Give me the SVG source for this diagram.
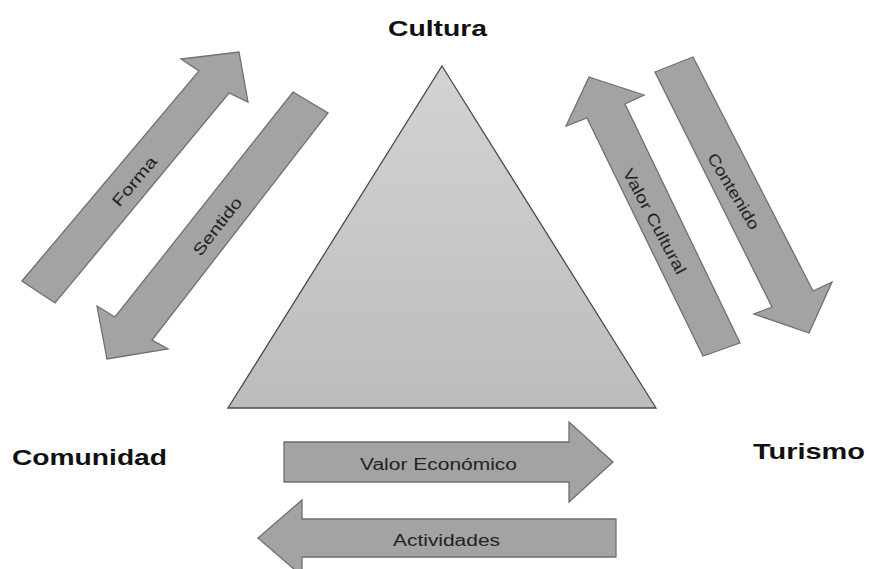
<svg xmlns="http://www.w3.org/2000/svg" width="869" height="569" viewBox="0 0 869 569">
  <defs>
    <linearGradient id="triFill" x1="0" y1="0" x2="0" y2="1">
      <stop offset="0" stop-color="#d3d3d3"/>
      <stop offset="1" stop-color="#bcbcbc"/>
    </linearGradient>
    <style>
      .arrow { fill: #a3a3a3; stroke: #6f6f6f; stroke-width: 1.3; stroke-linejoin: miter; }
      .tri { fill: url(#triFill); stroke: #4a4a4a; stroke-width: 1.3; }
      .title { font-family: "Liberation Sans", Arial, sans-serif; font-weight: bold; font-size: 22px; fill: #111; }
      .lbl { font-family: "Liberation Sans", Arial, sans-serif; font-size: 16px; fill: #222; text-anchor: middle; }
    </style>
  </defs>
  <rect width="869" height="569" fill="#ffffff"/>

  <!-- central triangle -->
  <g id="triangle">
    <polygon class="tri" points="442,66 656,408 228,408"/>
  </g>

  <!-- corner labels -->
  <g id="cultura">
    <text class="title" x="437.5" y="36" text-anchor="middle" textLength="99" lengthAdjust="spacingAndGlyphs">Cultura</text>
  </g>
  <g id="comunidad">
    <text class="title" x="12" y="465" textLength="155" lengthAdjust="spacingAndGlyphs">Comunidad</text>
  </g>
  <g id="turismo">
    <text class="title" x="753" y="459" textLength="112" lengthAdjust="spacingAndGlyphs">Turismo</text>
  </g>

  <!-- block arrows between the corners -->
  <g id="connectors">
    <g id="forma">
      <polygon class="arrow" points="22,281 199,71 181,59 239,52 248,102 229,93 55,303"/>
      <text class="lbl" transform="translate(134,181) rotate(-50)" x="0" y="6" textLength="60" lengthAdjust="spacingAndGlyphs">Forma</text>
    </g>
    <g id="sentido">
      <polygon class="arrow" points="293,92 328,113 152,340 168,349 107,359 97,306 115,317"/>
      <text class="lbl" transform="translate(217,226) rotate(-52)" x="0" y="6" textLength="69" lengthAdjust="spacingAndGlyphs">Sentido</text>
    </g>
    <g id="valor-cultural">
      <polygon class="arrow" points="589,77 644,95 625,104 740,343 703,356 587,118 566,126"/>
      <text class="lbl" transform="translate(655,221) rotate(62)" x="0" y="6" textLength="117" lengthAdjust="spacingAndGlyphs">Valor  Cultural</text>
    </g>
    <g id="contenido">
      <polygon class="arrow" points="655,72 693,57 813,291 832,282 809,333 754,314 772,307"/>
      <text class="lbl" transform="translate(734,191) rotate(59)" x="0" y="6" textLength="86" lengthAdjust="spacingAndGlyphs">Contenido</text>
    </g>
    <g id="valor-economico">
      <polygon class="arrow" points="284,442 569,442 569,422 613,462 569,502 569,482 284,482"/>
      <text class="lbl" x="438.5" y="470" textLength="157" lengthAdjust="spacingAndGlyphs">Valor Económico</text>
    </g>
    <g id="actividades">
      <polygon class="arrow" points="616,519 302,519 302,500 258,538 302,576 302,557 616,557"/>
      <text class="lbl" x="446.5" y="546" textLength="107" lengthAdjust="spacingAndGlyphs">Actividades</text>
    </g>
  </g>
</svg>
